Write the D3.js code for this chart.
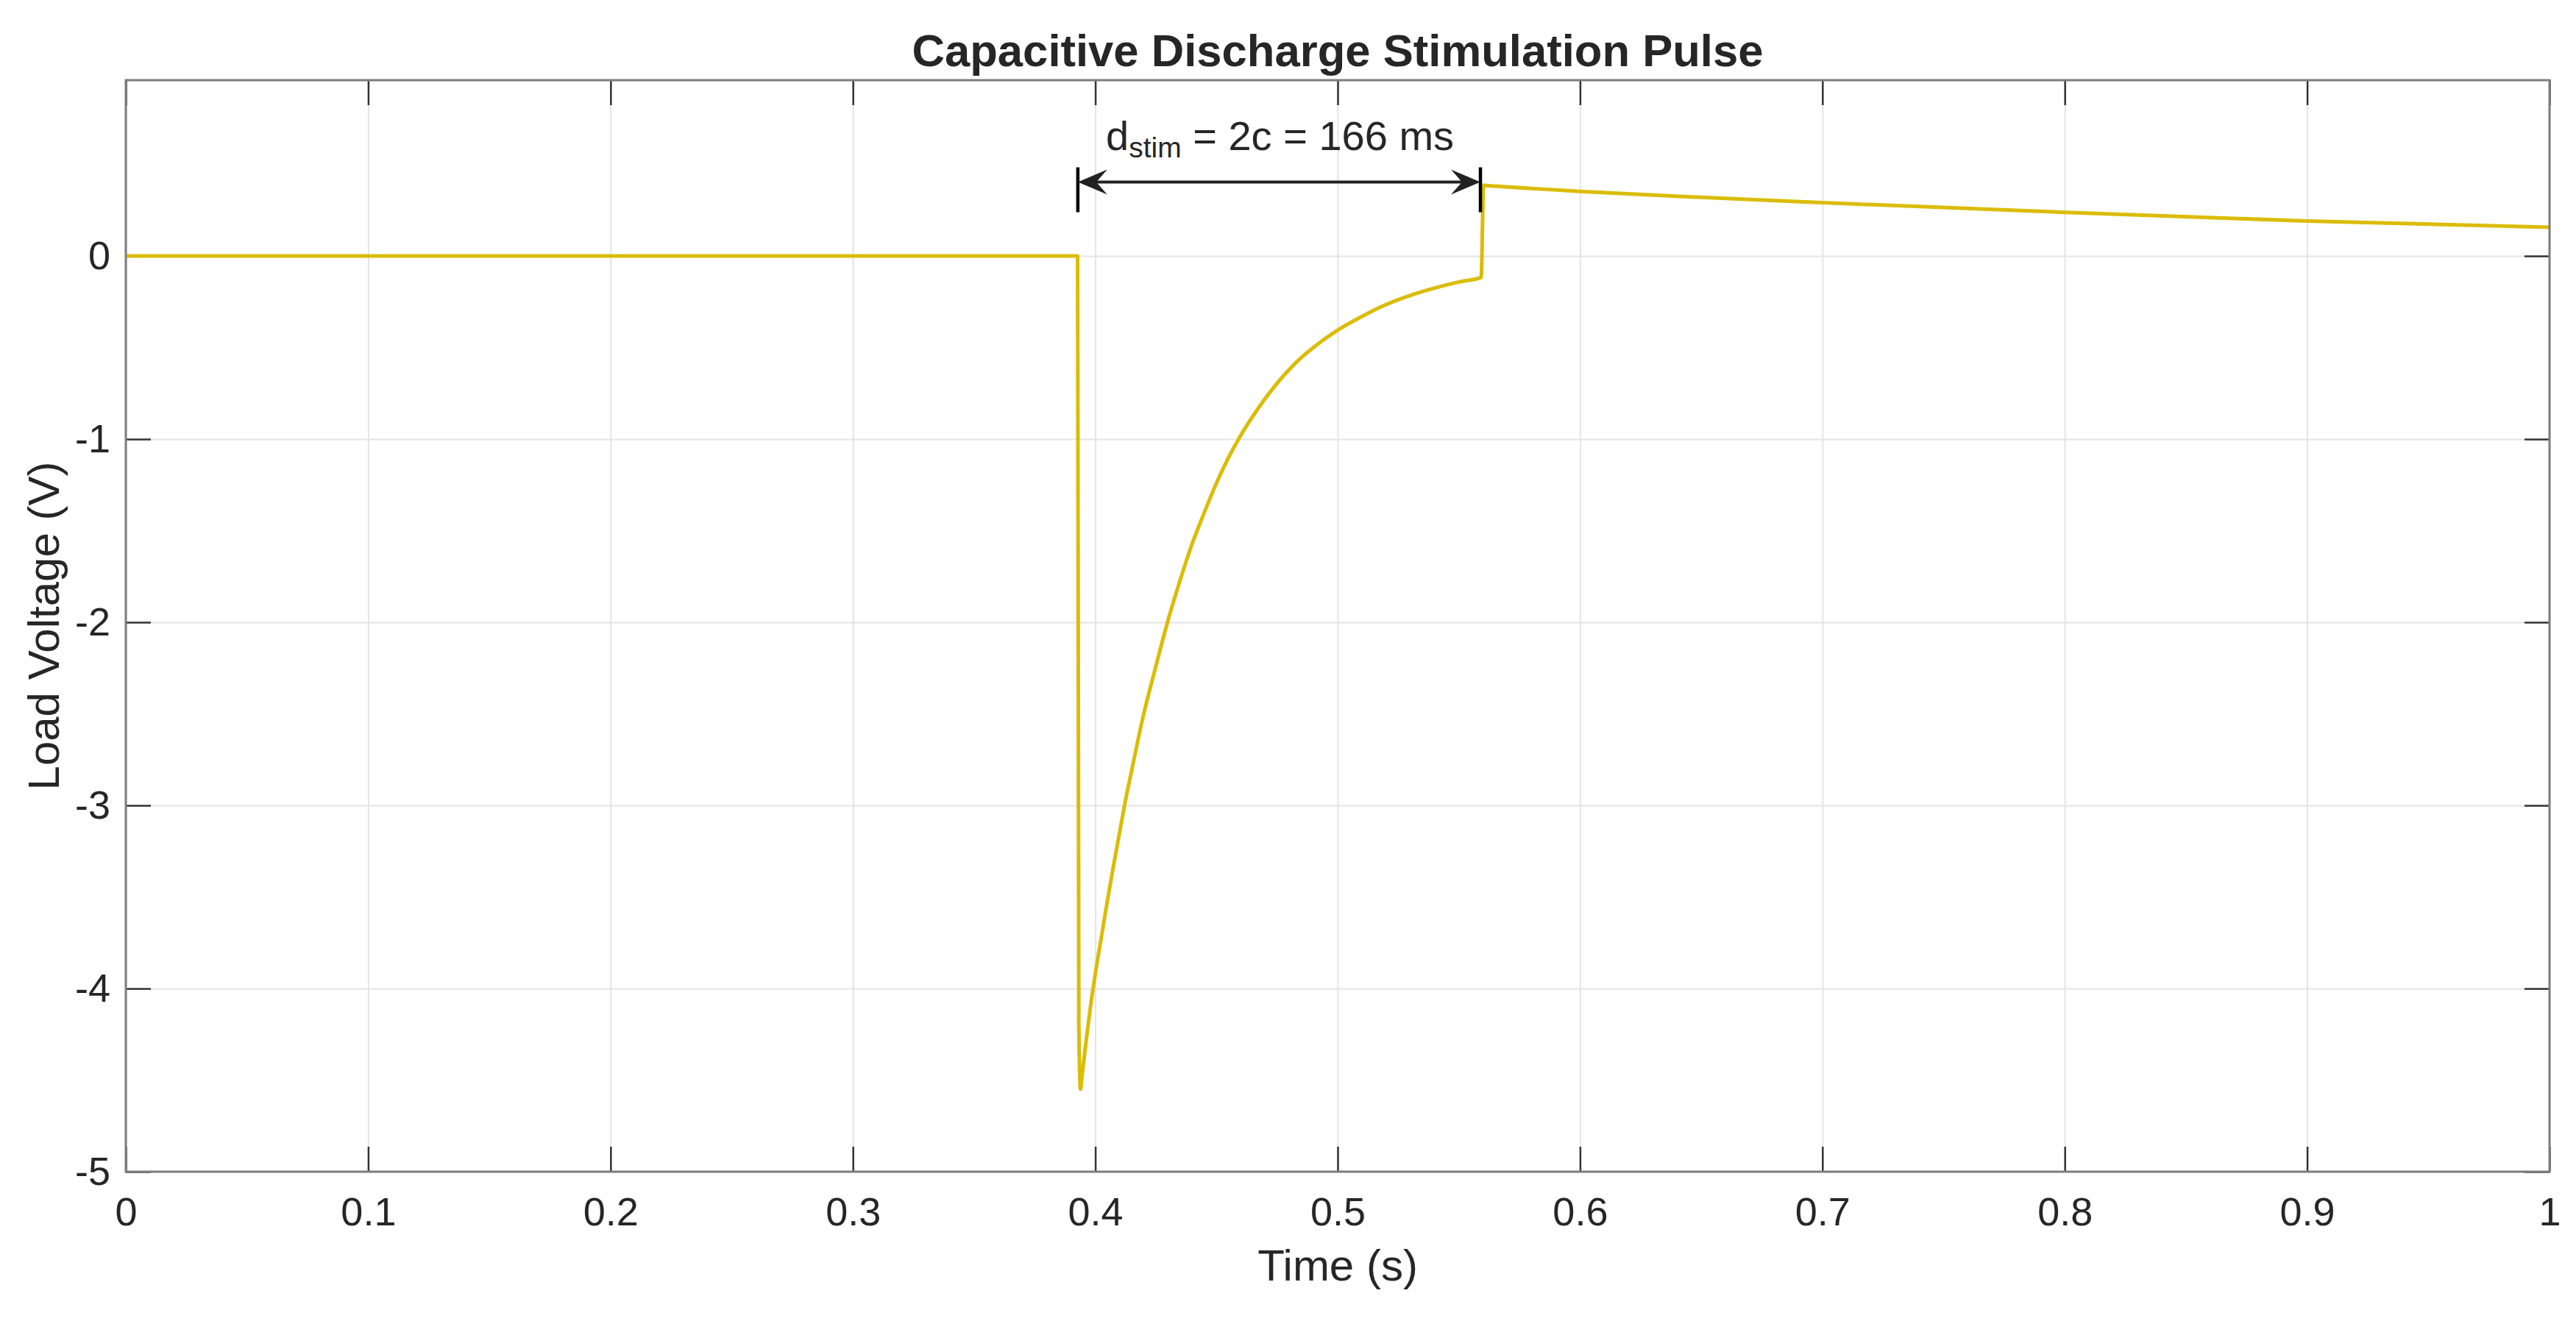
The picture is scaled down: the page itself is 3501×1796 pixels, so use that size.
<!DOCTYPE html>
<html>
<head>
<meta charset="utf-8">
<script src="https://cdn.jsdelivr.net/npm/d3@7"></script>
<style>
  body { margin: 0; background: #fff; }
  text { font-family: "Liberation Sans", Arial, sans-serif; fill: #262626; }
</style>
</head>
<body>
<script>
// values
const timeS = [0, 0.1, 0.2, 0.3, 0.3927, 0.3932, 0.3939, 0.3945, 0.396, 0.398, 0.4,
  0.4025, 0.405, 0.4075, 0.41, 0.4125, 0.415, 0.4175, 0.42, 0.425, 0.43,
  0.435, 0.44, 0.445, 0.45, 0.455, 0.46, 0.465, 0.47, 0.475, 0.48,
  0.485, 0.49, 0.495, 0.5, 0.51, 0.52, 0.53, 0.54, 0.55, 0.5592,
  0.5602, 0.5612, 0.6, 0.65, 0.7, 0.8, 0.9, 1.0];
const loadV = [0, 0, 0, 0, 0, -4.2, -4.55, -4.48, -4.31, -4.1, -3.92,
  -3.72, -3.52, -3.33, -3.15, -2.97, -2.81, -2.65, -2.5, -2.24, -1.99,
  -1.77, -1.57, -1.4, -1.24, -1.1, -0.98, -0.875, -0.78, -0.695, -0.62,
  -0.555, -0.5, -0.45, -0.405, -0.33, -0.265, -0.215, -0.175, -0.142, -0.117,
  0.386, 0.385, 0.353, 0.32, 0.291, 0.238, 0.191, 0.157];

const xTickValues = [0, 0.1, 0.2, 0.3, 0.4, 0.5, 0.6, 0.7, 0.8, 0.9, 1];
const yTickValues = [-5, -4, -3, -2, -1, 0];

// stimulation window annotation (seconds / volts)
const stimStart = 0.3928, stimEnd = 0.5589;
const stimArrowV = 0.404, stimBarTop = 0.484, stimBarBottom = 0.239, stimTextV = 0.58;

const width = 3501, height = 1796;
const plotLeft = 171, plotRight = 3465, plotTop = 109, plotBottom = 1593;

const svg = d3.select("body").append("svg")
  .attr("width", width)
  .attr("height", height);

const x = d3.scaleLinear().domain([0, 1]).range([plotLeft, plotRight]);
const y = d3.scaleLinear().domain([-5, 0.96]).range([plotBottom, plotTop]);

// grid
svg.append("g")
  .attr("transform", "translate(0," + plotBottom + ")")
  .call(d3.axisBottom(x).tickValues(xTickValues).tickSize(-(plotBottom - plotTop)).tickFormat(""))
  .call(g => g.select(".domain").remove())
  .call(g => g.selectAll("line").attr("stroke", "#e4e4e4").attr("stroke-width", 2));

svg.append("g")
  .attr("transform", "translate(" + plotLeft + ",0)")
  .call(d3.axisLeft(y).tickValues(yTickValues).tickSize(-(plotRight - plotLeft)).tickFormat(""))
  .call(g => g.select(".domain").remove())
  .call(g => g.selectAll("line").attr("stroke", "#e4e4e4").attr("stroke-width", 2));

// axes with inward ticks
function styleAxis(g) {
  g.select(".domain").remove();
  g.selectAll("line").attr("stroke", "#333").attr("stroke-width", 2.5);
  g.selectAll("text")
    .attr("fill", "#262626")
    .style("font-family", "'Liberation Sans', Arial, sans-serif")
    .style("font-size", "54px");
}

svg.append("g")
  .attr("transform", "translate(0," + plotBottom + ")")
  .call(d3.axisBottom(x).tickValues(xTickValues).tickSizeInner(-34).tickSizeOuter(0)
    .tickPadding(35).tickFormat(d3.format("~g")))
  .call(styleAxis);

svg.append("g")
  .attr("transform", "translate(0," + plotTop + ")")
  .call(d3.axisTop(x).tickValues(xTickValues).tickSizeInner(-34).tickSizeOuter(0).tickFormat(""))
  .call(styleAxis);

svg.append("g")
  .attr("transform", "translate(" + plotLeft + ",0)")
  .call(d3.axisLeft(y).tickValues(yTickValues).tickSizeInner(-34).tickSizeOuter(0)
    .tickPadding(21).tickFormat(d => String(d)))
  .call(styleAxis);

svg.append("g")
  .attr("transform", "translate(" + plotRight + ",0)")
  .call(d3.axisRight(y).tickValues(yTickValues).tickSizeInner(-34).tickSizeOuter(0).tickFormat(""))
  .call(styleAxis);

// trace (drawn over the tick marks)
const line = d3.line()
  .x((d, i) => x(timeS[i]))
  .y(d => y(d))
  .curve(d3.curveMonotoneX);

svg.append("path")
  .datum(loadV)
  .attr("fill", "none")
  .attr("stroke", "#dbbc06")
  .attr("stroke-width", 5)
  .attr("stroke-linejoin", "round")
  .attr("d", line);

// box
svg.append("rect")
  .attr("x", plotLeft)
  .attr("y", plotTop)
  .attr("width", plotRight - plotLeft)
  .attr("height", plotBottom - plotTop)
  .attr("fill", "none")
  .attr("stroke", "#7d7d7d")
  .attr("stroke-width", 3);

// labels
svg.append("text")
  .attr("x", (plotLeft + plotRight) / 2)
  .attr("y", 90)
  .attr("text-anchor", "middle")
  .attr("textLength", 1157)
  .attr("lengthAdjust", "spacingAndGlyphs")
  .style("font-size", "61px")
  .style("font-weight", "bold")
  .text("Capacitive Discharge Stimulation Pulse");

svg.append("text")
  .attr("x", (plotLeft + plotRight) / 2)
  .attr("y", 1741)
  .attr("text-anchor", "middle")
  .style("font-size", "60px")
  .text("Time (s)");

svg.append("text")
  .attr("transform", "translate(80," + (plotTop + plotBottom) / 2 + ") rotate(-90)")
  .attr("text-anchor", "middle")
  .style("font-size", "60px")
  .text("Load Voltage (V)");

// stimulation duration annotation
const ann = svg.append("g");
const ax0 = x(stimStart), ax1 = x(stimEnd), ay = y(stimArrowV);
const headLen = 40, headHalf = 17, notch = 25;

ann.append("line")
  .attr("x1", ax0 + notch).attr("x2", ax1 - notch)
  .attr("y1", ay).attr("y2", ay)
  .attr("stroke", "#222").attr("stroke-width", 4);

ann.selectAll("path.head")
  .data([[ax0, 1], [ax1, -1]])
  .enter()
  .append("path")
  .attr("class", "head")
  .attr("fill", "#222")
  .attr("d", d => {
    const tx = d[0], s = d[1];
    return "M" + tx + "," + ay
      + "L" + (tx + s * headLen) + "," + (ay - headHalf)
      + "L" + (tx + s * notch) + "," + ay
      + "L" + (tx + s * headLen) + "," + (ay + headHalf) + "Z";
  });

ann.selectAll("line.bar")
  .data([stimStart, stimEnd])
  .enter()
  .append("line")
  .attr("class", "bar")
  .attr("x1", d => x(d)).attr("x2", d => x(d))
  .attr("y1", y(stimBarTop)).attr("y2", y(stimBarBottom))
  .attr("stroke", "#000").attr("stroke-width", 4.5);

const label = ann.append("text")
  .attr("x", 1503)
  .attr("y", y(stimTextV))
  .style("font-size", "56px");
label.append("tspan").text("d");
label.append("tspan").attr("dy", 10).style("font-size", "39px").text("stim");
label.append("tspan").attr("dy", -10).text(" = 2c = 166 ms");
</script>
</body>
</html>
